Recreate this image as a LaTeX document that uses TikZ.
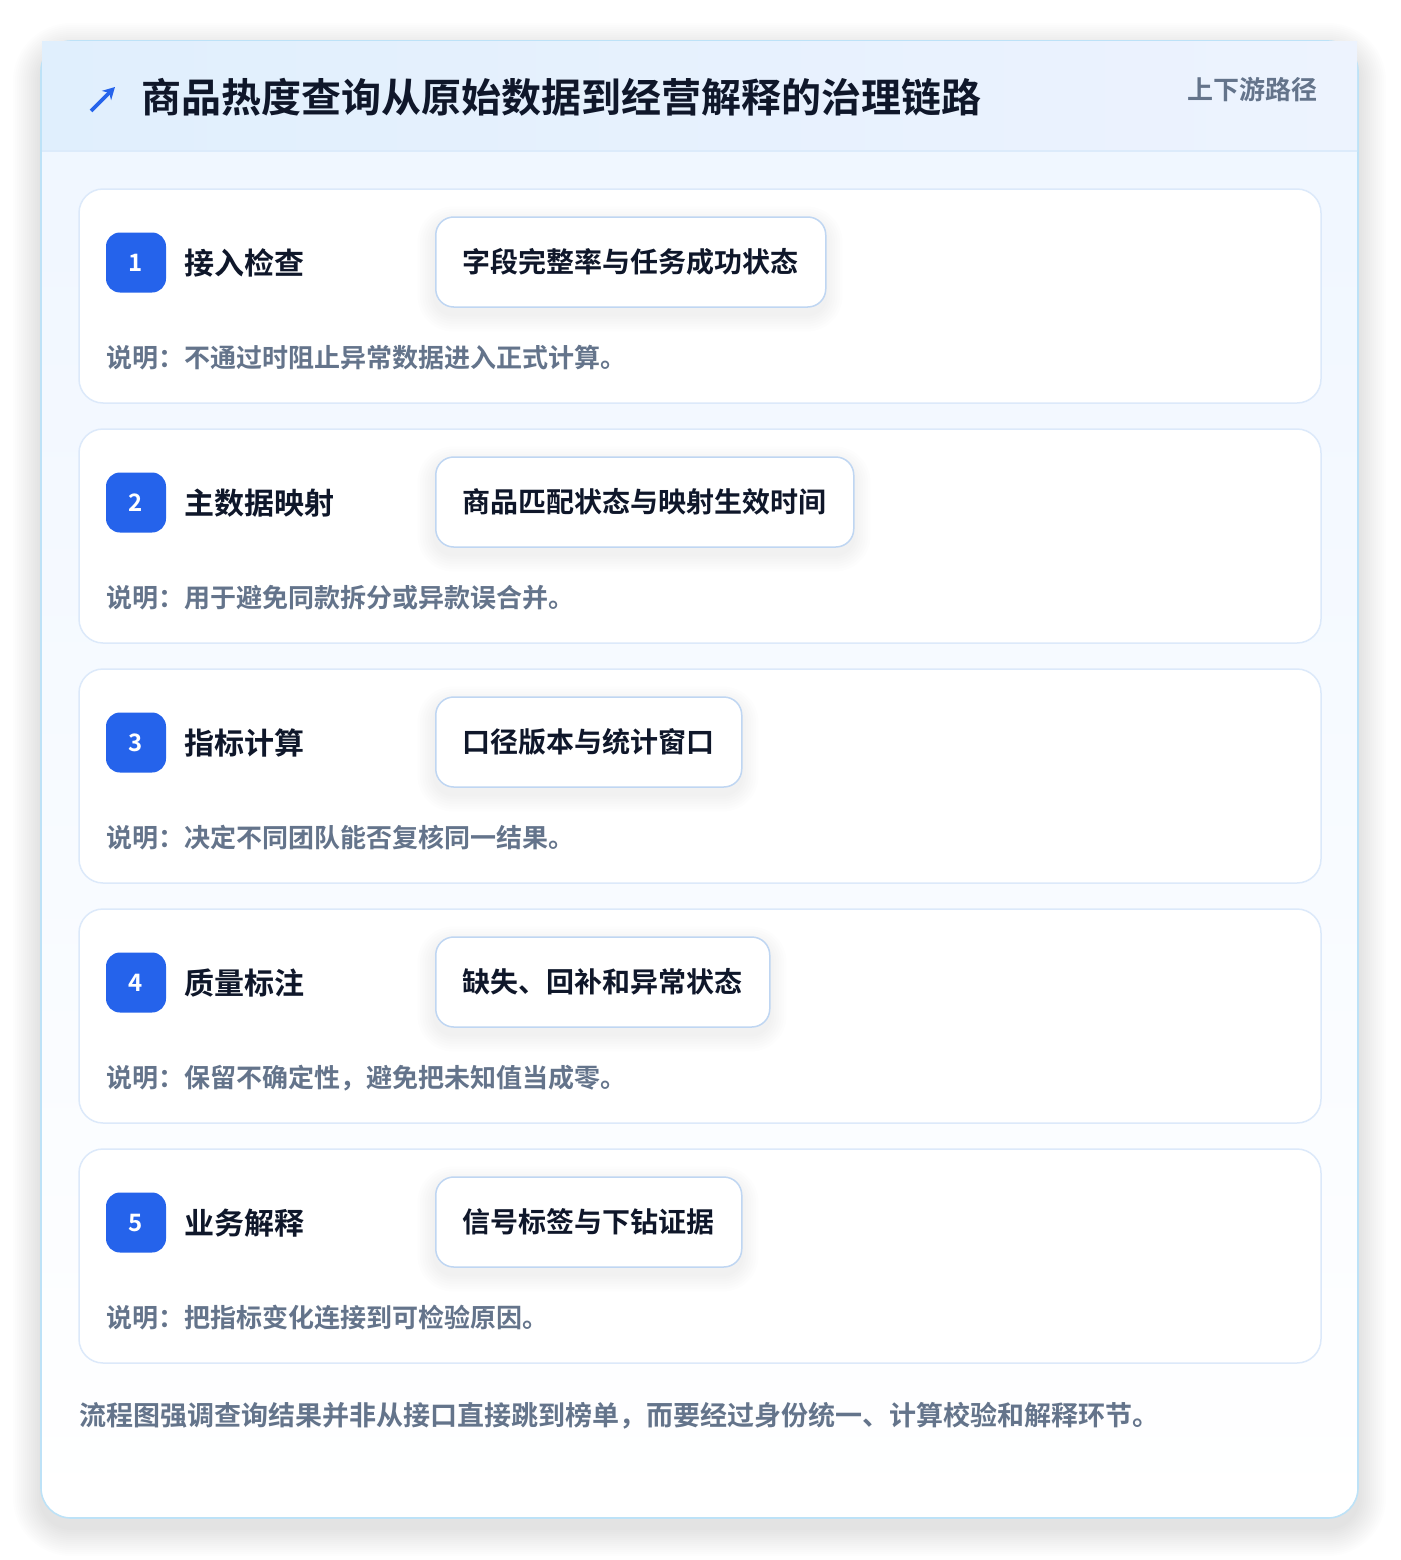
\documentclass[tikz,border=0pt]{standalone}
\usepackage{fontspec}
\setmainfont{Noto Sans CJK SC}[BoldFont={Noto Sans CJK SC Bold}]
\usetikzlibrary{arrows.meta}
\definecolor{ink}{HTML}{0F172A}
\definecolor{muted}{HTML}{64748B}
\definecolor{brand}{HTML}{2563EB}
\definecolor{cardline}{HTML}{BDE2F7}
\definecolor{stepline}{HTML}{DCE9FA}
\definecolor{tagline}{HTML}{BFD6F2}
\definecolor{cardtop}{HTML}{EFF6FF}
\definecolor{hdrleft}{HTML}{E0EFFD}
\definecolor{hdrright}{HTML}{EDF3FE}
\definecolor{hdrline}{HTML}{DCEBFB}
\definecolor{shadowcol}{HTML}{1E293B}
\newcommand\mysoftshadow[9]{% x1 y1 x2 y2 radius layers step opacity yshift
  \foreach \k in {1,...,#6}{
    \fill[shadowcol, opacity=#8, rounded corners={#5pt+#7pt*\k}]
      ({#1-#7*\k},{#2-#7*\k+#9}) rectangle ({#3+#7*\k},{#4+#7*\k+#9});
  }}
\tikzset{
  outercard/.style={draw=cardline, line width=1.6pt, rounded corners=30pt,
    top color=cardtop, bottom color=white, minimum width=1317pt, minimum height=1477pt},
  hdrbox/.style={left color=hdrleft, right color=hdrright, minimum width=1315pt, minimum height=109pt, inner sep=0pt},
  stepcard/.style={draw=stepline, line width=1.5pt, fill=white, rounded corners=24pt,
    minimum width=1242pt, minimum height=214pt, inner sep=0pt},
  badgebox/.style={fill=brand, rounded corners=14pt, minimum width=60pt, minimum height=60pt, inner sep=0pt,
    text=white, font=\bfseries\fontsize{24}{28}\selectfont, text height=17.5pt, text depth=0pt},
  steptitle/.style={anchor=base west, inner sep=0pt, text=ink, font=\bfseries\fontsize{30}{36}\selectfont},
  tagbox/.style={draw=tagline, line width=1.5pt, fill=white, rounded corners=18pt, anchor=west,
    minimum height=90pt, inner xsep=27pt, inner ysep=0pt, text height=22.4pt, text depth=1.1pt,
    text=ink, font=\bfseries\fontsize{28}{34}\selectfont},
  notetext/.style={anchor=base west, inner sep=0pt, text=muted, font=\bfseries\fontsize{26}{32}\selectfont},
}
\begin{document}
\begin{tikzpicture}[x=1pt,y=-1pt]
\useasboundingbox[fill=white] (0,0) rectangle (1400,1560);
% outer card shadow and card
\mysoftshadow{41}{41}{1358}{1518}{30}{14}{2}{0.006}{10}
\node[outercard] (card) at (699.5,779.5) {};
% header
\node[hdrbox] (header) at (699.5,96.5) {};
\draw[hdrline, line width=1.5pt] (header.south west) -- (header.south east);
% arrow icon
\coordinate (arrA) at (91,111);
\coordinate (arrB) at (115,87);
\draw[brand, line width=3.8pt, -{Stealth[length=12pt,width=13pt]}] (arrA) -- (arrB);
\node[anchor=base west, inner sep=0pt, text=ink, font=\bfseries\fontsize{40}{48}\selectfont] (title) at (141,113)
  {商品热度查询从原始数据到经营解释的治理链路};
\node[anchor=base east, inner sep=0pt, text=muted, font=\bfseries\fontsize{26}{32}\selectfont] (scope) at (1318,100)
  {上下游路径};
% steps
\foreach \i/\ttl/\tag/\tagw/\note in {
  1/接入检查/字段完整率与任务成功状态/390/说明：不通过时阻止异常数据进入正式计算。,
  2/主数据映射/商品匹配状态与映射生效时间/418/说明：用于避免同款拆分或异款误合并。,
  3/指标计算/口径版本与统计窗口/306/说明：决定不同团队能否复核同一结果。,
  4/质量标注/缺失、回补和异常状态/334/说明：保留不确定性，避免把未知值当成零。,
  5/业务解释/信号标签与下钻证据/306/说明：把指标变化连接到可检验原因。}{
  \pgfmathsetmacro{\top}{189+240*(\i-1)}
  \node[stepcard] (step\i) at (700,\top+107) {};
  \node[badgebox] (badge\i) at (136,\top+73.5) {\i};
  \node[steptitle] (title\i) at (184,\top+85) {\ttl};
  \mysoftshadow{435}{\top+28}{435+\tagw}{\top+118}{18}{7}{2.5}{0.006}{7}
  \node[tagbox] (tag\i) at (435,\top+73) {\tag};
  \node[notetext] (note\i) at (106,\top+178) {\note};
}
\node[anchor=base west, inner sep=0pt, text=muted, font=\bfseries\fontsize{27}{32}\selectfont] (footer) at (79,1425)
  {流程图强调查询结果并非从接口直接跳到榜单，而要经过身份统一、计算校验和解释环节。};
\end{tikzpicture}
\end{document}
